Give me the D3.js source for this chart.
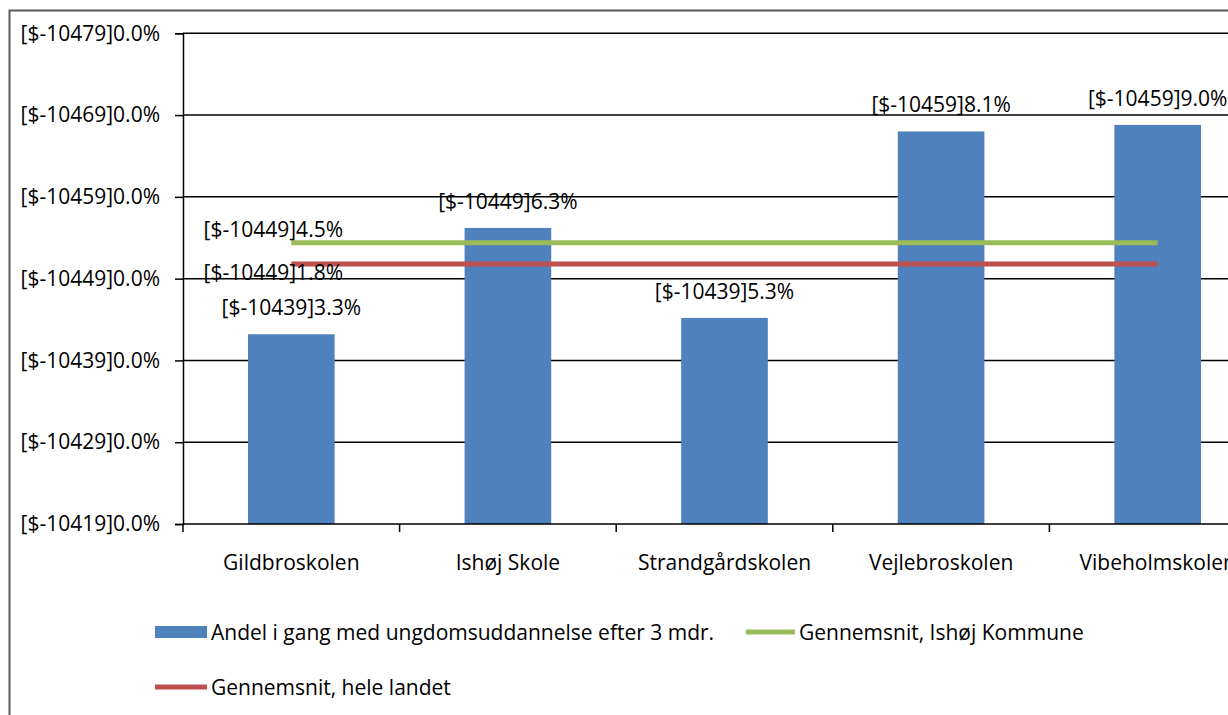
<!DOCTYPE html>
<html><head><meta charset="utf-8">
<script src="https://cdn.jsdelivr.net/npm/d3@7"></script>
<style>
html,body{margin:0;padding:0;background:#fff;overflow:hidden;}
text{font-family:"Open Sans",sans-serif;fill:#000;}
</style></head>
<body>
<svg id="chart" width="1228" height="715"></svg>
<script>
// ---- data ----
const categories = ["Gildbroskolen","Ishøj Skole","Strandgårdskolen","Vejlebroskolen","Vibeholmskolen"];
const barValues = [81.6, 88.1, 82.6, 94.0, 94.4];
const barLabels = ["[$-10439]3.3%","[$-10449]6.3%","[$-10439]5.3%","[$-10459]8.1%","[$-10459]9.0%"];
const kommuneValues = [87.2, 87.2, 87.2, 87.2, 87.2];
const landetValues = [85.9, 85.9, 85.9, 85.9, 85.9];
const kommuneLabel = "[$-10449]4.5%";
const landetLabel = "[$-10449]1.8%";
const yTicks = [70, 75, 80, 85, 90, 95, 100];
const yTickLabels = ["[$-10419]0.0%","[$-10429]0.0%","[$-10439]0.0%","[$-10449]0.0%","[$-10459]0.0%","[$-10469]0.0%","[$-10479]0.0%"];
const seriesNames = ["Andel i gang med ungdomsuddannelse efter 3 mdr.","Gennemsnit, Ishøj Kommune","Gennemsnit, hele landet"];
const colors = {bar:"#4F81BD", kommune:"#9BBB59", landet:"#C0504D"};

(function(){
const FS = 21;
const svg = d3.select("#chart");

// frame
svg.append("rect").attr("x",9.5).attr("y",10.5).attr("width",1300).attr("height",800)
  .attr("fill","#fff").attr("stroke","#595959").attr("stroke-width",2);

const pl = 183, pr = 1266, pt = 33.3, pb = 524;
const x = d3.scaleBand().domain(categories).range([pl,pr]).paddingInner(0.6).paddingOuter(0.3);
const xc = d3.scalePoint().domain(categories).range([pl,pr]).padding(0.5);
const y = d3.scaleLinear().domain([70,100]).range([pb,pt]);

// gridlines
svg.append("g").selectAll("line").data(yTicks.slice(1)).join("line")
  .attr("x1",pl).attr("x2",pr).attr("y1",d=>y(d)).attr("y2",d=>y(d))
  .attr("stroke","#000").attr("stroke-width",1.5);

// y axis
const yAxis = d3.axisLeft(y).tickValues(yTicks).tickSize(8).tickPadding(15)
  .tickFormat((d,i)=>yTickLabels[i]);
const gy = svg.append("g").attr("transform",`translate(${pl},0)`).call(yAxis);
gy.select(".domain").attr("stroke","#000").attr("stroke-width",1.5);
gy.selectAll(".tick line").attr("stroke","#000").attr("stroke-width",1.5);
gy.selectAll("text").attr("font-size",FS).attr("font-family","Open Sans").attr("fill","#000");

// bars
svg.append("g").selectAll("rect").data(barValues).join("rect")
  .attr("x",(d,i)=>x(categories[i])).attr("width",x.bandwidth())
  .attr("y",d=>y(d)).attr("height",d=>pb-y(d)).attr("fill",colors.bar);

// x axis
const xAxis = d3.axisBottom(x).tickSize(0).tickPadding(0);
const gx = svg.append("g").attr("transform",`translate(0,${pb})`).call(xAxis);
gx.select(".domain").remove();
gx.selectAll("text").attr("font-size",FS).attr("font-family","Open Sans").attr("fill","#000")
  .attr("y",38).attr("dy",null).attr("dominant-baseline","central");
const bounds = d3.range(categories.length+1).map(i=>pl+(pr-pl)*i/categories.length);
svg.append("g").selectAll("line").data(bounds).join("line")
  .attr("x1",d=>d).attr("x2",d=>d).attr("y1",pb).attr("y2",pb+8)
  .attr("stroke","#000").attr("stroke-width",1.5);
svg.append("line").attr("x1",pl).attr("x2",pr).attr("y1",pb).attr("y2",pb)
  .attr("stroke","#000").attr("stroke-width",1.5);

// lines
const line = d3.line().x((d,i)=>xc(categories[i])).y(d=>y(d));
svg.append("path").datum(kommuneValues).attr("d",line).attr("fill","none")
  .attr("stroke",colors.kommune).attr("stroke-width",5);
svg.append("path").datum(landetValues).attr("d",line).attr("fill","none")
  .attr("stroke",colors.landet).attr("stroke-width",5);

// bar labels
svg.append("g").selectAll("text").data(barValues).join("text")
  .attr("x",(d,i)=>xc(categories[i])).attr("y",d=>y(d)-27)
  .attr("text-anchor","middle").attr("dominant-baseline","central").attr("font-size",FS)
  .text((d,i)=>barLabels[i]);
// line labels
svg.append("text").attr("x",xc(categories[0])-18).attr("y",y(kommuneValues[0])-14)
  .attr("text-anchor","middle").attr("dominant-baseline","central").attr("font-size",FS).text(kommuneLabel);
svg.append("text").attr("x",xc(categories[0])-18).attr("y",y(landetValues[0])+8)
  .attr("text-anchor","middle").attr("dominant-baseline","central").attr("font-size",FS).text(landetLabel);

// legend
const lg = svg.append("g");
lg.append("rect").attr("x",155).attr("y",626).attr("width",52).attr("height",12).attr("fill",colors.bar);
lg.append("text").attr("x",211).attr("y",632).attr("dominant-baseline","central").attr("font-size",FS).text(seriesNames[0]);
lg.append("line").attr("x1",746).attr("x2",795).attr("y1",632).attr("y2",632).attr("stroke",colors.kommune).attr("stroke-width",5);
lg.append("text").attr("x",799).attr("y",632).attr("dominant-baseline","central").attr("font-size",FS).text(seriesNames[1]);
lg.append("line").attr("x1",155).attr("x2",207).attr("y1",687).attr("y2",687).attr("stroke",colors.landet).attr("stroke-width",5);
lg.append("text").attr("x",211).attr("y",687).attr("dominant-baseline","central").attr("font-size",FS).text(seriesNames[2]);
})();
</script>
</body></html>
